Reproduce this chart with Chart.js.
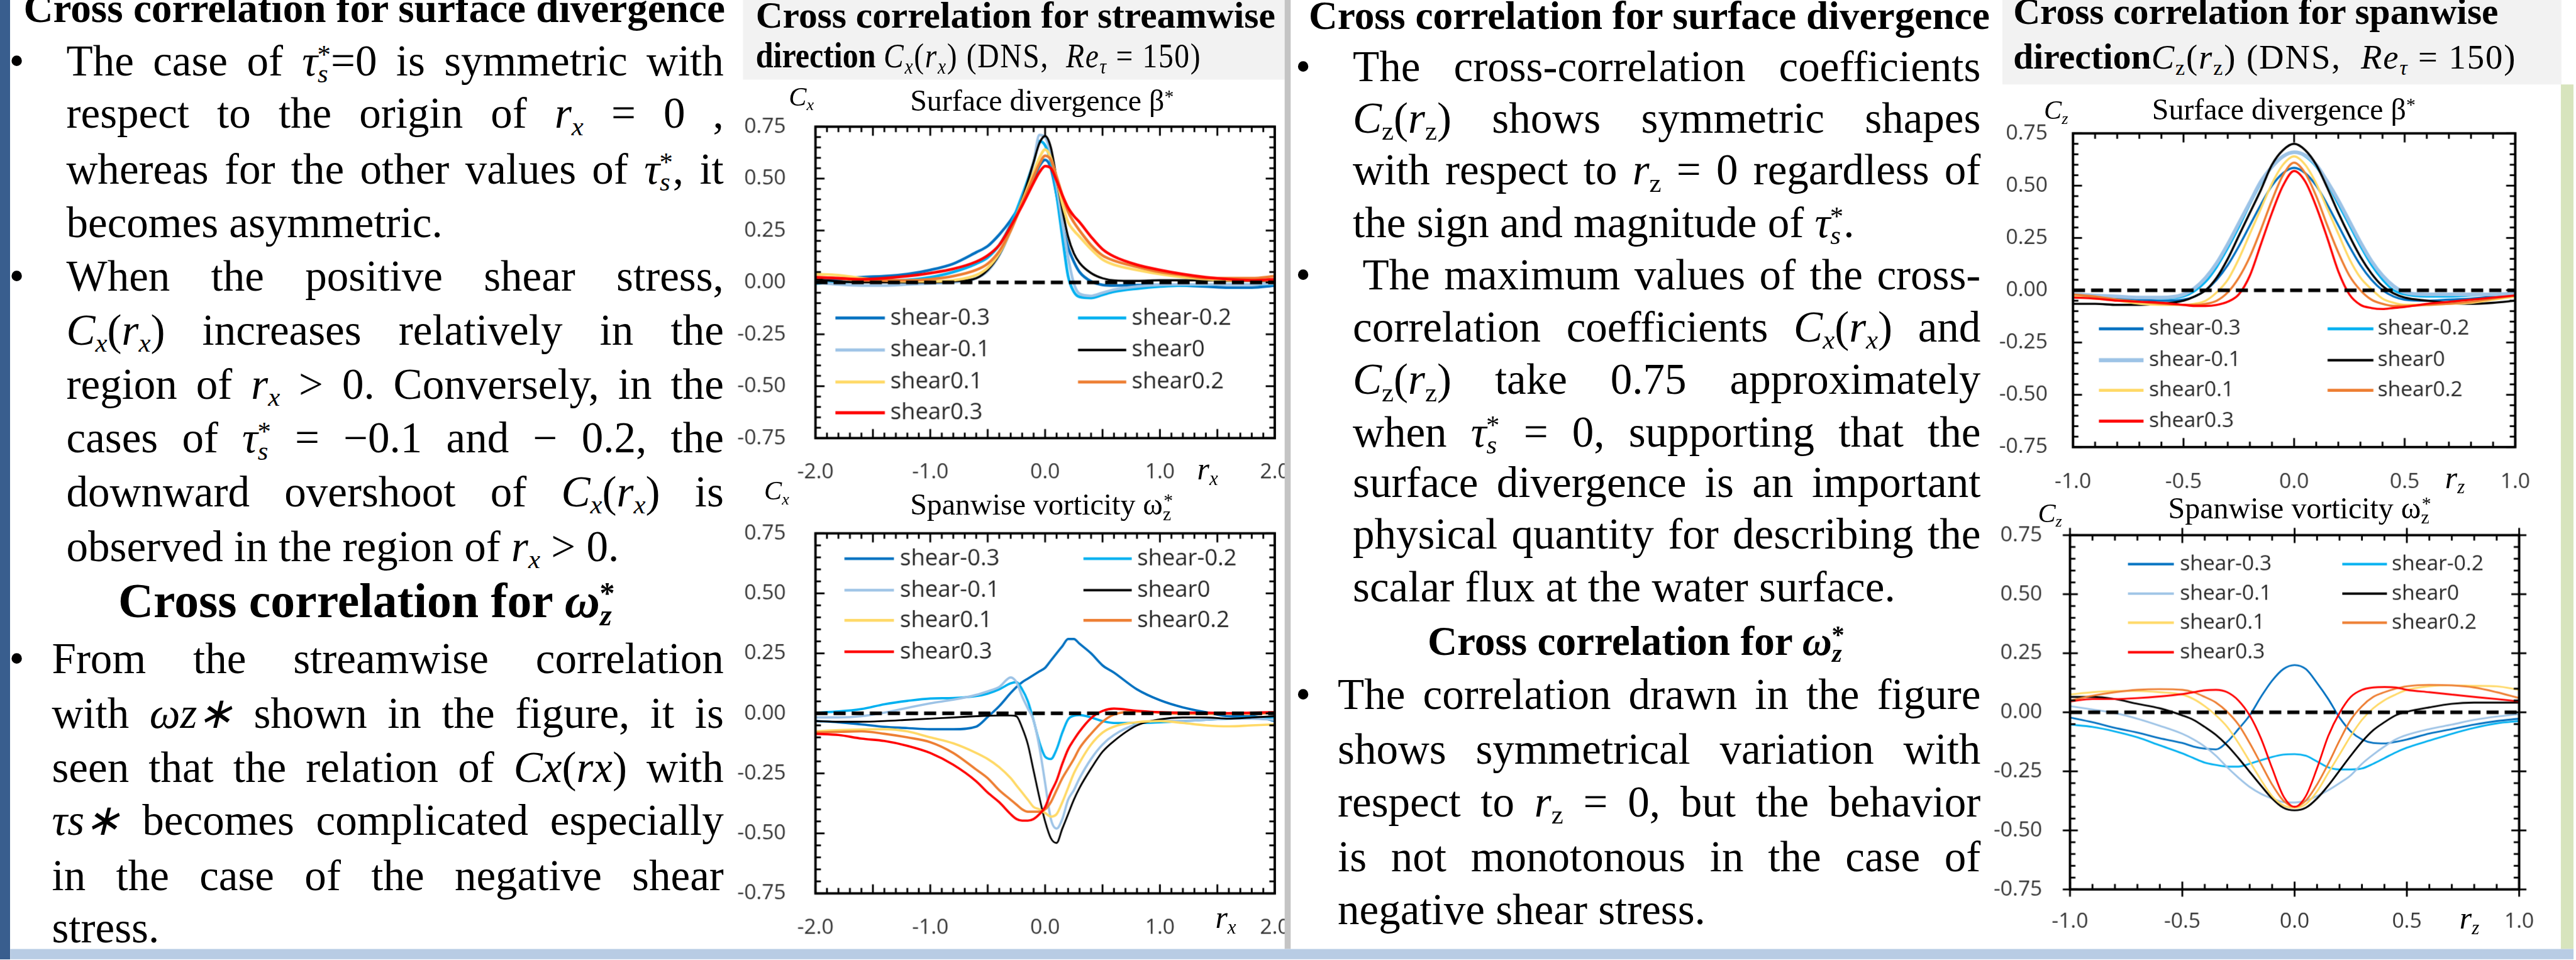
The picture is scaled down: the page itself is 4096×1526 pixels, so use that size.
<!DOCTYPE html>
<html>
<head>
<meta charset="utf-8">
<script src="https://cdn.jsdelivr.net/npm/chart.js@4.4.1/dist/chart.umd.min.js"></script>
<style>
html, body { margin: 0; padding: 0; background: #fff; overflow: hidden; }
#poster { position: relative; width: 4267px; height: 1590px; transform: scale(0.959); transform-origin: 0 0;
  overflow: hidden; background: #fff; color: #000; font-family: "Liberation Serif", "Times New Roman", serif; }
.t { position: absolute; line-height: 0; white-space: nowrap; }
.bd { font-size: 72px; }
.j { text-align: justify; text-align-last: justify; }
.b { font-weight: bold; }
.sb { font-size: .62em; position: relative; top: .28em; font-style: italic; }
.up { font-style: normal; }
.sp { font-size: .62em; position: relative; top: -.45em; }
.ov { margin-left: -.4em; }
.mth { font-size: 57px; font-weight: normal; letter-spacing: 2px; }
.blk { position: absolute; }
canvas { position: absolute; }
.preload { position: absolute; left: -9999px; font-family: "Open Sans"; }
</style>
</head>
<body>
<span class="preload">shear-0.3 0.75</span>
<div id="poster">
  <!-- background panels -->
  <div class="blk" style="left:1232px;top:0;width:898px;height:132px;background:#f2f2f2"></div>
  <div class="blk" style="left:3320px;top:0;width:927px;height:140px;background:#f2f2f2"></div>
  <div class="blk" style="left:4246px;top:140px;width:21px;height:1433px;background:#d7e4bd"></div>

  <canvas id="cxBeta" width="938" height="630" style="left:1212px;top:190px"></canvas>
  <canvas id="cxOmega" width="938" height="710" style="left:1212px;top:864px"></canvas>
  <canvas id="czBeta" width="895" height="634" style="left:3312px;top:201px"></canvas>
  <canvas id="czOmega" width="906" height="701" style="left:3307px;top:867px"></canvas>

  <div class="blk" style="left:2130px;top:0;width:10px;height:1573px;background:#c4c4c4;z-index:2"></div>
  <div class="blk" style="left:0;top:0;width:17px;height:1590px;background:#395e8e;z-index:2"></div>
  <div class="blk" style="left:17px;top:1573px;width:4250px;height:17px;background:#b8cce4;z-index:2"></div>

  <!-- left text column -->
  <div class="t b" style="left:39px;top:14px;font-size:68px">Cross correlation for surface divergence</div>
  <div class="t bd" style="left:15px;top:101px">•</div>
  <div class="t bd j" style="left:110px;top:101px;width:1090px">The case of <i>τ</i><span class="sb">s</span><span class="sp ov">*</span>=0 is symmetric with</div>
  <div class="t bd j" style="left:110px;top:188px;width:1090px">respect to the origin of <i>r</i><span class="sb">x</span> = 0 ,</div>
  <div class="t bd j" style="left:110px;top:280px;width:1090px">whereas for the other values of <i>τ</i><span class="sb">s</span><span class="sp ov">*</span>, it</div>
  <div class="t bd" style="left:110px;top:369px">becomes asymmetric.</div>
  <div class="t bd" style="left:15px;top:458px">•</div>
  <div class="t bd j" style="left:110px;top:458px;width:1090px">When the positive shear stress,</div>
  <div class="t bd j" style="left:110px;top:547px;width:1090px"><i>C</i><span class="sb">x</span>(<i>r</i><span class="sb">x</span>) increases relatively in the</div>
  <div class="t bd j" style="left:110px;top:637px;width:1090px">region of <i>r</i><span class="sb">x</span> &gt; 0. Conversely, in the</div>
  <div class="t bd j" style="left:110px;top:726px;width:1090px">cases of <i>τ</i><span class="sb">s</span><span class="sp ov">*</span> = −0.1 and − 0.2, the</div>
  <div class="t bd j" style="left:110px;top:815px;width:1090px">downward overshoot of <i>C</i><span class="sb">x</span>(<i>r</i><span class="sb">x</span>) is</div>
  <div class="t bd" style="left:110px;top:906px">observed in the region of <i>r</i><span class="sb">x</span> &gt; 0.</div>
  <div class="t b" style="left:196px;top:996px;font-size:81px">Cross correlation for <i>ω</i><span class="sb">z</span><span class="sp ov">*</span></div>
  <div class="t bd" style="left:15px;top:1092px">•</div>
  <div class="t bd j" style="left:86px;top:1092px;width:1114px">From the streamwise correlation</div>
  <div class="t bd j" style="left:86px;top:1182px;width:1114px">with <i>ωz∗</i> shown in the figure, it is</div>
  <div class="t bd j" style="left:86px;top:1272px;width:1114px">seen that the relation of <i>Cx</i>(<i>rx</i>) with</div>
  <div class="t bd j" style="left:86px;top:1360px;width:1114px"><i>τs∗</i> becomes complicated especially</div>
  <div class="t bd j" style="left:86px;top:1451px;width:1114px">in the case of the negative shear</div>
  <div class="t bd" style="left:86px;top:1538px">stress.</div>

  <!-- chart panel headers -->
  <div class="t b" style="left:1253px;top:25px;font-size:62px">Cross correlation for streamwise</div>
  <div class="t b" style="left:1253px;top:92px;font-size:60px;transform:scaleX(0.87);transform-origin:0 0">direction <span class="mth"><i>C</i><span class="sb">x</span>(<i>r</i><span class="sb">x</span>) (DNS,&nbsp; <i>Re</i><span class="sb">τ</span> = 150)</span></div>
  <div class="t b" style="left:3338px;top:19px;font-size:62px">Cross correlation for spanwise</div>
  <div class="t b" style="left:3338px;top:94px;font-size:60px">direction<span class="mth"><i>C</i><span class="sb up">z</span>(<i>r</i><span class="sb up">z</span>) (DNS,&nbsp; <i>Re</i><span class="sb">τ</span> = 150)</span></div>

  <!-- chart titles and axis names -->
  <div class="t" style="left:1308px;top:161px;font-size:44px"><i>C</i><span class="sb">x</span></div>
  <div class="t" style="left:1509px;top:167px;font-size:50px">Surface divergence β<span class="sp">*</span></div>
  <div class="t" style="left:1985px;top:778px;font-size:52px"><i>r</i><span class="sb">x</span></div>
  <div class="t" style="left:1267px;top:814px;font-size:44px"><i>C</i><span class="sb">x</span></div>
  <div class="t" style="left:1509px;top:836px;font-size:50px">Spanwise vorticity ω<span class="sb up">z</span><span class="sp ov">*</span></div>
  <div class="t" style="left:2015px;top:1521px;font-size:52px"><i>r</i><span class="sb">x</span></div>
  <div class="t" style="left:3389px;top:183px;font-size:44px"><i>C</i><span class="sb">z</span></div>
  <div class="t" style="left:3568px;top:181px;font-size:50px">Surface divergence β<span class="sp">*</span></div>
  <div class="t" style="left:4054px;top:792px;font-size:52px"><i>r</i><span class="sb">z</span></div>
  <div class="t" style="left:3379px;top:851px;font-size:44px"><i>C</i><span class="sb">z</span></div>
  <div class="t" style="left:3595px;top:842px;font-size:50px">Spanwise vorticity ω<span class="sb up">z</span><span class="sp ov">*</span></div>
  <div class="t" style="left:4078px;top:1522px;font-size:52px"><i>r</i><span class="sb">z</span></div>

  <!-- middle text column -->
  <div class="t b" style="left:2170px;top:26px;font-size:66px">Cross correlation for surface divergence</div>
  <div class="t bd" style="left:2148px;top:110px">•</div>
  <div class="t bd j" style="left:2243px;top:110px;width:1041px">The cross-correlation coefficients</div>
  <div class="t bd j" style="left:2243px;top:196px;width:1041px"><i>C</i><span class="sb up">z</span>(<i>r</i><span class="sb up">z</span>) shows symmetric shapes</div>
  <div class="t bd j" style="left:2243px;top:282px;width:1041px">with respect to <i>r</i><span class="sb up">z</span> = 0 regardless of</div>
  <div class="t bd" style="left:2243px;top:369px">the sign and magnitude of <i>τ</i><span class="sb">s</span><span class="sp ov">*</span>.</div>
  <div class="t bd" style="left:2148px;top:456px">•</div>
  <div class="t bd j" style="left:2259px;top:456px;width:1025px">The maximum values of the cross-</div>
  <div class="t bd j" style="left:2243px;top:542px;width:1041px">correlation coefficients <i>C</i><span class="sb">x</span>(<i>r</i><span class="sb">x</span>) and</div>
  <div class="t bd j" style="left:2243px;top:629px;width:1041px"><i>C</i><span class="sb up">z</span>(<i>r</i><span class="sb up">z</span>) take 0.75 approximately</div>
  <div class="t bd j" style="left:2243px;top:716px;width:1041px">when <i>τ</i><span class="sb">s</span><span class="sp ov">*</span> = 0, supporting that the</div>
  <div class="t bd j" style="left:2243px;top:800px;width:1041px">surface divergence is an important</div>
  <div class="t bd j" style="left:2243px;top:885px;width:1041px">physical quantity for describing the</div>
  <div class="t bd" style="left:2243px;top:973px">scalar flux at the water surface.</div>
  <div class="t b" style="left:2367px;top:1062px;font-size:68px">Cross correlation for <i>ω</i><span class="sb">z</span><span class="sp ov">*</span></div>
  <div class="t bd" style="left:2148px;top:1151px">•</div>
  <div class="t bd j" style="left:2218px;top:1151px;width:1066px">The correlation drawn in the figure</div>
  <div class="t bd j" style="left:2218px;top:1242px;width:1066px">shows symmetrical variation with</div>
  <div class="t bd j" style="left:2218px;top:1329px;width:1066px">respect to <i>r</i><span class="sb up">z</span> = 0, but the behavior</div>
  <div class="t bd j" style="left:2218px;top:1420px;width:1066px">is not monotonous in the case of</div>
  <div class="t bd" style="left:2218px;top:1508px">negative shear stress.</div>
</div>

<script>
// series names
const shearNames = ['shear-0.3', 'shear-0.2', 'shear-0.1', 'shear0', 'shear0.1', 'shear0.2', 'shear0.3'];

// tick values and labels
const cTicks = [-0.75, -0.5, -0.25, 0, 0.25, 0.5, 0.75];
const cTickLabels = ['-0.75', '-0.50', '-0.25', '0.00', '0.25', '0.50', '0.75'];
const rxTicks = [-2, -1, 0, 1, 2];
const rxTickLabels = ['-2.0', '-1.0', '0.0', '1.0', '2.0'];
const rzTicks = [-1, -0.5, 0, 0.5, 1];
const rzTickLabels = ['-1.0', '-0.5', '0.0', '0.5', '1.0'];

// streamwise, surface divergence
const rxBeta = [-2, -1.8, -1.6, -1.4, -1.2, -1.0, -0.8, -0.6, -0.5, -0.4, -0.3, -0.2, -0.1, -0.05, 0,
  0.05, 0.1, 0.15, 0.2, 0.25, 0.3, 0.4, 0.5, 0.6, 0.8, 1.0, 1.2, 1.4, 1.6, 1.8, 2.0];
const cxB_n3 = [0.005, 0.015, 0.025, 0.03, 0.04, 0.06, 0.09, 0.145, 0.175, 0.23, 0.30, 0.39, 0.50, 0.56, 0.59,
  0.55, 0.42, 0.28, 0.17, 0.10, 0.05, 0.005, -0.012, -0.015, -0.013, -0.012, -0.015, -0.02, -0.025, -0.025, -0.015];
const cxB_n2 = [-0.005, 0.0, 0.005, 0.008, 0.012, 0.025, 0.05, 0.09, 0.12, 0.18, 0.28, 0.42, 0.58, 0.68, 0.66,
  0.58, 0.42, 0.22, 0.03, -0.045, -0.07, -0.075, -0.06, -0.045, -0.03, -0.02, -0.015, -0.012, -0.01, -0.01, -0.008];
const cxB_n1 = [0.0, -0.01, -0.015, -0.015, -0.01, -0.005, 0.0, 0.02, 0.055, 0.13, 0.25, 0.40, 0.58, 0.71, 0.70,
  0.62, 0.47, 0.29, 0.12, -0.005, -0.055, -0.065, -0.05, -0.035, -0.02, -0.012, -0.01, -0.01, -0.01, -0.01, -0.005];
const cxB_0 = [0.015, 0.005, 0.0, 0.0, 0.0, 0.0, 0.005, 0.02, 0.06, 0.134, 0.25, 0.40, 0.58, 0.67, 0.705,
  0.65, 0.50, 0.35, 0.22, 0.14, 0.094, 0.045, 0.02, 0.01, 0.007, 0.01, 0.01, 0.01, 0.007, 0.007, 0.005];
const cxB_p1 = [0.04, 0.035, 0.02, 0.01, 0.005, 0.005, 0.01, 0.035, 0.07, 0.14, 0.25, 0.39, 0.53, 0.60, 0.64,
  0.60, 0.50, 0.38, 0.29, 0.25, 0.22, 0.16, 0.11, 0.085, 0.06, 0.04, 0.025, 0.015, 0.01, 0.01, 0.01];
const cxB_p2 = [0.025, 0.02, 0.01, 0.01, 0.01, 0.015, 0.03, 0.06, 0.09, 0.15, 0.25, 0.38, 0.51, 0.57, 0.61,
  0.59, 0.51, 0.42, 0.34, 0.29, 0.25, 0.18, 0.13, 0.105, 0.075, 0.05, 0.035, 0.02, 0.02, 0.02, 0.03];
const cxB_p3 = [0.025, 0.02, 0.015, 0.02, 0.03, 0.045, 0.065, 0.10, 0.13, 0.18, 0.27, 0.37, 0.48, 0.53, 0.56,
  0.55, 0.49, 0.42, 0.36, 0.32, 0.29, 0.22, 0.16, 0.125, 0.085, 0.06, 0.04, 0.025, 0.015, 0.01, 0.015];

// streamwise, spanwise vorticity
const rxOmega = [-2, -1.8, -1.6, -1.4, -1.2, -1.0, -0.8, -0.6, -0.5, -0.4, -0.3, -0.25, -0.2, -0.15, -0.1, -0.05, 0,
  0.05, 0.1, 0.15, 0.2, 0.25, 0.3, 0.4, 0.5, 0.6, 0.8, 1.0, 1.2, 1.4, 1.6, 1.8, 2.0];
const cxW_n3 = [-0.032, -0.037, -0.046, -0.056, -0.061, -0.066, -0.066, -0.055, -0.015, 0.03, 0.085, 0.11, 0.13, 0.145, 0.16, 0.175, 0.19,
  0.22, 0.25, 0.28, 0.31, 0.31, 0.29, 0.25, 0.20, 0.17, 0.10, 0.055, 0.025, 0.005, -0.012, -0.012, -0.032];
const cxW_n2 = [0.003, 0.008, 0.018, 0.038, 0.052, 0.062, 0.064, 0.072, 0.082, 0.10, 0.125, 0.13, 0.10, 0.05, -0.03, -0.12, -0.18,
  -0.19, -0.15, -0.08, -0.025, -0.01, -0.007, -0.017, -0.032, -0.04, -0.04, -0.037, -0.032, -0.027, -0.022, -0.017, -0.017];
const cxW_n1 = [-0.017, -0.017, -0.012, 0.003, 0.023, 0.042, 0.057, 0.077, 0.092, 0.11, 0.15, 0.13, 0.07, 0.02, -0.03, -0.14, -0.29,
  -0.44, -0.48, -0.44, -0.36, -0.32, -0.27, -0.19, -0.13, -0.09, -0.045, -0.03, -0.032, -0.027, -0.022, -0.022, -0.027];
const cxW_0 = [-0.032, -0.035, -0.035, -0.032, -0.027, -0.022, -0.017, -0.012, -0.01, -0.009, -0.009, -0.012, -0.06, -0.13, -0.24, -0.35, -0.45,
  -0.52, -0.54, -0.48, -0.42, -0.36, -0.31, -0.23, -0.16, -0.115, -0.05, -0.025, -0.017, -0.017, -0.022, -0.017, -0.012];
const cxW_p1 = [-0.075, -0.07, -0.067, -0.066, -0.075, -0.10, -0.125, -0.165, -0.19, -0.224, -0.27, -0.30, -0.33, -0.36, -0.39, -0.40, -0.415,
  -0.43, -0.42, -0.37, -0.31, -0.25, -0.205, -0.13, -0.08, -0.055, -0.037, -0.032, -0.04, -0.05, -0.054, -0.05, -0.046];
const cxW_p2 = [-0.08, -0.077, -0.075, -0.085, -0.10, -0.12, -0.165, -0.234, -0.27, -0.32, -0.36, -0.38, -0.40, -0.41, -0.41, -0.41, -0.40,
  -0.37, -0.32, -0.27, -0.23, -0.19, -0.145, -0.085, -0.035, -0.005, 0.008, 0.003, -0.002, -0.002, -0.002, -0.002, 0.003];
const cxW_p3 = [-0.085, -0.09, -0.105, -0.115, -0.135, -0.165, -0.214, -0.283, -0.33, -0.37, -0.42, -0.44, -0.447, -0.447, -0.44, -0.42, -0.39,
  -0.33, -0.28, -0.21, -0.15, -0.11, -0.075, -0.02, 0.01, 0.02, 0.011, 0.005, 0.003, 0.003, 0.001, 0.003, 0.005];

// spanwise direction (both panels share the separation grid)
const rzGrid = [-1, -0.9, -0.8, -0.7, -0.6, -0.5, -0.45, -0.4, -0.35, -0.3, -0.25, -0.2, -0.15, -0.1, -0.05, 0,
  0.05, 0.1, 0.15, 0.2, 0.25, 0.3, 0.35, 0.4, 0.45, 0.5, 0.6, 0.7, 0.8, 0.9, 1.0];
const czB_n3 = [-0.03, -0.035, -0.04, -0.045, -0.05, -0.045, -0.03, 0.0, 0.05, 0.12, 0.21, 0.31, 0.41, 0.50, 0.56, 0.585,
  0.56, 0.50, 0.41, 0.31, 0.21, 0.12, 0.05, 0.0, -0.03, -0.045, -0.05, -0.045, -0.04, -0.03, -0.02];
const czB_n2 = [-0.02, -0.025, -0.03, -0.035, -0.04, -0.03, -0.005, 0.04, 0.11, 0.20, 0.30, 0.41, 0.51, 0.59, 0.64, 0.66,
  0.64, 0.59, 0.51, 0.41, 0.31, 0.21, 0.12, 0.05, 0.0, -0.02, -0.03, -0.03, -0.025, -0.02, -0.015];
const czB_n1 = [-0.02, -0.025, -0.03, -0.035, -0.035, -0.02, 0.01, 0.06, 0.13, 0.22, 0.32, 0.42, 0.52, 0.59, 0.64, 0.66,
  0.645, 0.60, 0.52, 0.43, 0.33, 0.23, 0.14, 0.07, 0.02, -0.01, -0.02, -0.02, -0.02, -0.02, -0.015];
const czB_0 = [-0.065, -0.065, -0.07, -0.07, -0.065, -0.05, -0.03, 0.0, 0.06, 0.15, 0.26, 0.37, 0.48, 0.60, 0.67, 0.70,
  0.67, 0.60, 0.49, 0.37, 0.26, 0.16, 0.08, 0.02, -0.015, -0.035, -0.05, -0.06, -0.065, -0.06, -0.05];
const czB_p1 = [-0.03, -0.04, -0.05, -0.065, -0.07, -0.07, -0.065, -0.05, -0.01, 0.05, 0.15, 0.27, 0.39, 0.51, 0.60, 0.64,
  0.60, 0.51, 0.39, 0.27, 0.15, 0.06, 0.005, -0.04, -0.06, -0.07, -0.07, -0.065, -0.06, -0.045, -0.03];
const czB_p2 = [-0.02, -0.03, -0.045, -0.055, -0.065, -0.07, -0.07, -0.065, -0.05, -0.01, 0.06, 0.16, 0.29, 0.43, 0.55, 0.61,
  0.56, 0.45, 0.31, 0.18, 0.07, 0.0, -0.045, -0.065, -0.075, -0.075, -0.07, -0.065, -0.055, -0.04, -0.025];
const czB_p3 = [-0.035, -0.04, -0.05, -0.055, -0.06, -0.07, -0.075, -0.075, -0.07, -0.055, -0.02, 0.07, 0.22, 0.37, 0.50, 0.57,
  0.52, 0.40, 0.25, 0.09, -0.02, -0.07, -0.085, -0.09, -0.085, -0.08, -0.065, -0.055, -0.045, -0.035, -0.025];

const czW_n3 = [-0.022, -0.042, -0.066, -0.086, -0.11, -0.13, -0.145, -0.154, -0.157, -0.125, -0.071, -0.013, 0.065, 0.134, 0.183, 0.20,
  0.183, 0.124, 0.056, -0.022, -0.081, -0.115, -0.13, -0.132, -0.125, -0.115, -0.09, -0.071, -0.052, -0.037, -0.027];
const czW_n2 = [-0.052, -0.062, -0.081, -0.106, -0.14, -0.174, -0.194, -0.213, -0.223, -0.23, -0.23, -0.218, -0.203, -0.189, -0.179, -0.177,
  -0.184, -0.208, -0.233, -0.242, -0.242, -0.238, -0.218, -0.194, -0.17, -0.15, -0.12, -0.091, -0.066, -0.047, -0.037];
const czW_n1 = [0.026, 0.012, -0.003, -0.027, -0.057, -0.091, -0.115, -0.145, -0.184, -0.233, -0.277, -0.316, -0.345, -0.365, -0.38, -0.382,
  -0.374, -0.355, -0.33, -0.30, -0.267, -0.218, -0.179, -0.145, -0.115, -0.096, -0.071, -0.052, -0.032, -0.018, -0.008];
const czW_0 = [0.065, 0.065, 0.056, 0.036, 0.017, -0.013, -0.032, -0.062, -0.096, -0.14, -0.194, -0.252, -0.31, -0.365, -0.404, -0.415,
  -0.404, -0.365, -0.31, -0.247, -0.184, -0.125, -0.076, -0.042, -0.013, 0.002, 0.021, 0.036, 0.041, 0.041, 0.041];
const czW_p1 = [0.075, 0.085, 0.09, 0.09, 0.085, 0.075, 0.056, 0.026, -0.013, -0.062, -0.13, -0.208, -0.286, -0.355, -0.394, -0.404,
  -0.389, -0.335, -0.257, -0.179, -0.10, -0.032, 0.017, 0.051, 0.075, 0.095, 0.11, 0.114, 0.112, 0.11, 0.095];
const czW_p2 = [0.05, 0.07, 0.085, 0.095, 0.098, 0.095, 0.085, 0.065, 0.041, 0.002, -0.052, -0.13, -0.218, -0.306, -0.374, -0.40,
  -0.374, -0.306, -0.218, -0.12, -0.032, 0.026, 0.065, 0.085, 0.10, 0.11, 0.116, 0.114, 0.105, 0.085, 0.06];
const czW_p3 = [0.046, 0.056, 0.056, 0.06, 0.067, 0.077, 0.085, 0.093, 0.095, 0.085, 0.05, -0.013, -0.11, -0.237, -0.355, -0.40,
  -0.355, -0.237, -0.10, -0.003, 0.065, 0.095, 0.105, 0.107, 0.105, 0.095, 0.085, 0.075, 0.065, 0.056, 0.046];

// look
const shearColors = ['#0070c0', '#00b0f0', '#9dc3e6', '#000000', '#ffd966', '#ed7d31', '#ff0000'];
const SCALE = 0.959;
const SANS = '"Open Sans", Lato, sans-serif';

// frame with inside tick marks on all four sides (Excel style)
const frameTicks = {
  id: 'frameTicks',
  afterDatasetsDraw(chart, args, o) {
    const {ctx, chartArea: a, scales: {x, y}} = chart;
    ctx.save();
    ctx.strokeStyle = '#000';
    ctx.lineWidth = 3;
    const line = (x1, y1, x2, y2) => { ctx.beginPath(); ctx.moveTo(x1, y1); ctx.lineTo(x2, y2); ctx.stroke(); };
    const each = (min, max, minor, major, fn) => {
      const n = Math.round((max - min) / minor);
      for (let i = 0; i <= n; i++) {
        const v = min + i * minor;
        const q = v / major;
        fn(v, Math.abs(q - Math.round(q)) < 1e-6);
      }
    };
    each(x.min, x.max, o.xMinor, o.xMajor, (v, big) => {
      const p = x.getPixelForValue(v);
      const len = big ? o.majorLen : o.minorLen;
      const out = big ? o.outLen : 0;
      line(p, a.bottom + out, p, a.bottom - len);
      line(p, a.top - out, p, a.top + len);
    });
    each(y.min, y.max, o.yMinor, o.yMajor, (v, big) => {
      const p = y.getPixelForValue(v);
      const len = big ? o.majorLen : o.minorLen;
      const out = big ? o.outLen : 0;
      line(a.left - out, p, a.left + len, p);
      line(a.right + out, p, a.right - len, p);
    });
    ctx.lineWidth = 4;
    ctx.strokeRect(a.left, a.top, a.right - a.left, a.bottom - a.top);
    ctx.restore();
  }
};

// two-column legend placed inside the plot
const shearLegend = {
  id: 'shearLegend',
  afterDraw(chart, args, o) {
    const ctx = chart.ctx;
    ctx.save();
    ctx.font = o.size + 'px ' + SANS;
    ctx.textBaseline = 'middle';
    ctx.textAlign = 'left';
    chart.data.datasets.forEach((ds, i) => {
      if (ds.isRef) return;
      const col = o.cols[i % 2];
      const y = o.rows[Math.floor(i / 2)] - o.oy;
      ctx.strokeStyle = ds.borderColor;
      ctx.lineWidth = ds.legendWidth;
      ctx.beginPath();
      ctx.moveTo(col[0] - o.ox, y);
      ctx.lineTo(col[1] - o.ox, y);
      ctx.stroke();
      ctx.fillStyle = '#262626';
      ctx.fillText(ds.label, col[2] - o.ox, y);
    });
    ctx.restore();
  }
};

function makeChart(id, xs, series, xRange, xTicks, xLabels, cfg) {
  const cv = document.getElementById(id);
  const ox = parseFloat(cv.style.left), oy = parseFloat(cv.style.top);
  const datasets = series.map((vals, i) => ({
    label: shearNames[i],
    data: xs.map((r, k) => ({x: r, y: vals[k]})),
    borderColor: shearColors[i],
    borderWidth: cfg.widths[i],
    legendWidth: cfg.legendWidths[i],
    pointRadius: 0,
    fill: false,
    cubicInterpolationMode: 'monotone',
    order: 10 - i
  }));
  datasets.push({
    label: 'zero', isRef: true,
    data: [{x: xRange[0], y: 0}, {x: xRange[1], y: 0}],
    borderColor: '#000', borderWidth: 6, borderDash: [20, 10],
    pointRadius: 0, fill: false, order: 0
  });
  const tickFont = {family: SANS, size: cfg.tickSize};
  return new Chart(cv, {
    type: 'line',
    data: {datasets},
    plugins: [frameTicks, shearLegend],
    options: {
      responsive: false,
      animation: false,
      devicePixelRatio: SCALE,
      events: [],
      layout: {padding: {top: 20, right: 37, bottom: 14, left: 0}},
      plugins: {
        legend: {display: false},
        tooltip: {enabled: false},
        frameTicks: cfg.ticks,
        shearLegend: {cols: cfg.legCols, rows: cfg.legRows, size: cfg.legSize, ox, oy}
      },
      scales: {
        x: {
          type: 'linear', min: xRange[0], max: xRange[1],
          grid: {display: false, drawTicks: false},
          border: {display: false},
          ticks: {font: tickFont, color: '#333', padding: cfg.xPad, maxRotation: 0, autoSkip: false,
            callback: (v, i) => xLabels[i]},
          afterBuildTicks: s => { s.ticks = xTicks.map(v => ({value: v})); },
          afterFit: s => { s.height = 80; s.paddingLeft = 0; s.paddingRight = 0; }
        },
        y: {
          type: 'linear', min: -0.75, max: 0.75,
          grid: {display: false, drawTicks: false},
          border: {display: false},
          ticks: {font: tickFont, color: '#333', padding: cfg.yPad, autoSkip: false,
            callback: (v, i) => cTickLabels[i]},
          afterBuildTicks: s => { s.ticks = cTicks.map(v => ({value: v})); },
          afterFit: s => { s.width = cfg.yWidth; s.paddingTop = 0; s.paddingBottom = 0; }
        }
      }
    }
  });
}

const insideTicks = {xMinor: 0.1, xMajor: 0.5, yMinor: 0.05, yMajor: 0.25, majorLen: 15, minorLen: 9, outLen: 0};
const crossTicks = {xMinor: 0.1, xMajor: 0.5, yMinor: 0.05, yMajor: 0.25, majorLen: 13, minorLen: 9, outLen: 12};

function drawAll() {
  makeChart('cxBeta', rxBeta, [cxB_n3, cxB_n2, cxB_n1, cxB_0, cxB_p1, cxB_p2, cxB_p3], [-2, 2], rxTicks, rxTickLabels, {
    widths: [4.5, 4.5, 4.5, 3.5, 4.5, 4.5, 4.5], legendWidths: [5, 5, 5, 4, 5, 5, 5],
    tickSize: 35, xPad: 36, yPad: 49, yWidth: 140, ticks: insideTicks,
    legCols: [[1385, 1467, 1476], [1787, 1867, 1876]], legRows: [527, 580, 633, 684], legSize: 38
  });
  makeChart('cxOmega', rxOmega, [cxW_n3, cxW_n2, cxW_n1, cxW_0, cxW_p1, cxW_p2, cxW_p3], [-2, 2], rxTicks, rxTickLabels, {
    widths: [3.8, 3.8, 3.8, 3, 3.8, 3.8, 3.8], legendWidths: [4.5, 4.5, 4.5, 4, 4.5, 4.5, 4.5],
    tickSize: 35, xPad: 36, yPad: 49, yWidth: 140, ticks: insideTicks,
    legCols: [[1400, 1482, 1492], [1796, 1876, 1885]], legRows: [926, 978, 1028, 1080], legSize: 38
  });
  makeChart('czBeta', rzGrid, [czB_n3, czB_n2, czB_n1, czB_0, czB_p1, czB_p2, czB_p3], [-1, 1], rzTicks, rzTickLabels, {
    widths: [3.5, 3.5, 6, 3.5, 3.5, 3.5, 3.5], legendWidths: [5, 5, 7, 4, 5, 5, 5],
    tickSize: 35, xPad: 37, yPad: 42, yWidth: 125, ticks: insideTicks,
    legCols: [[3480, 3554, 3563], [3859, 3935, 3942]], legRows: [545, 597, 647, 698], legSize: 35
  });
  makeChart('czOmega', rzGrid, [czW_n3, czW_n2, czW_n1, czW_0, czW_p1, czW_p2, czW_p3], [-1, 1], rzTicks, rzTickLabels, {
    widths: [3, 3, 3, 3, 3, 3, 3], legendWidths: [4, 4, 4, 4, 4, 4, 4],
    tickSize: 35, xPad: 33, yPad: 46, yWidth: 125, ticks: crossTicks,
    legCols: [[3528, 3604, 3614], [3883, 3957, 3965]], legRows: [935, 984, 1032, 1081], legSize: 35
  });
}

// make sure the sans face is ready before the canvases draw text
Promise.all(['35px "Open Sans"', '38px "Open Sans"'].map(f => document.fonts.load(f)))
  .then(drawAll, drawAll);
</script>
</body>
</html>
